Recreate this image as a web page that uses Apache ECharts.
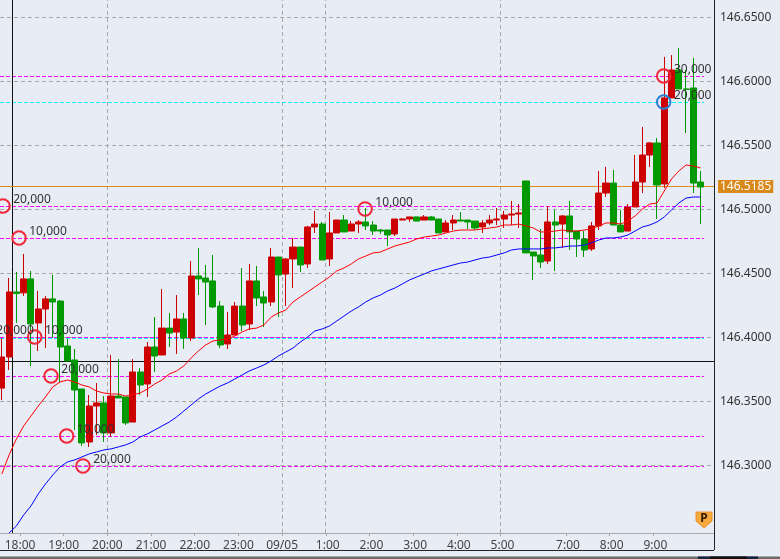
<!DOCTYPE html>
<html>
<head>
<meta charset="utf-8">
<style>
  html, body { margin: 0; padding: 0; background: #e8ecf5; overflow: hidden; }
  #chart { width: 780px; height: 559px; }
</style>
<script src="https://cdn.jsdelivr.net/npm/echarts@6/dist/echarts.min.js"></script>
</head>
<body>
<div id="chart"></div>
<script>
// 10 minute candles, one per slot on the x axis
const opens = [
  146.3603,146.3846,146.4354,146.4347,146.4456,146.4112,146.4221,146.4300,146.4283,146.3932,
  146.3823,146.3596,146.3182,146.3463,146.3487,146.3253,146.3541,146.3534,146.3338,146.3729,
  146.3635,146.3924,146.3862,146.4072,146.4041,146.4143,146.3994,146.4479,146.4463,146.4440,
  146.4244,146.3948,146.4018,146.4244,146.4104,146.4440,146.4315,146.4276,146.4627,146.4494,
  146.4612,146.4705,146.4573,146.4862,146.4885,146.4612,146.4815,146.4916,146.4830,146.4885,
  146.4901,146.4877,146.4838,146.4838,146.4807,146.4916,146.4924,146.4940,146.4916,146.4940,
  146.4924,146.4823,146.4893,146.4916,146.4916,146.4908,146.4862,146.4893,146.4916,146.4924,
  146.4955,146.4963,146.5221,146.4666,146.4643,146.4596,146.4901,146.4885,146.4948,146.4830,
  146.4768,146.4690,146.4870,146.5127,146.5205,146.4877,146.4830,146.5018,146.5213,146.5424,
  146.5518,146.5198,146.5870,146.6088,146.5940,146.5948,146.5213
];
const closes = [
  146.3846,146.4354,146.4342,146.4456,146.4104,146.4221,146.4300,146.4276,146.3924,146.3815,
  146.3588,146.3175,146.3463,146.3487,146.3253,146.3541,146.3526,146.3331,146.3729,146.3627,
  146.3924,146.3854,146.4072,146.4033,146.4143,146.3994,146.4479,146.4456,146.4432,146.4237,
  146.3940,146.4018,146.4244,146.4096,146.4440,146.4307,146.4268,146.4627,146.4487,146.4612,
  146.4705,146.4565,146.4862,146.4885,146.4604,146.4815,146.4916,146.4823,146.4885,146.4901,
  146.4870,146.4830,146.4830,146.4799,146.4924,146.4924,146.4940,146.4908,146.4940,146.4916,
  146.4815,146.4893,146.4916,146.4908,146.4901,146.4854,146.4893,146.4916,146.4924,146.4955,
  146.4963,146.4971,146.4659,146.4635,146.4588,146.4901,146.4877,146.4948,146.4823,146.4768,
  146.4682,146.4870,146.5127,146.5205,146.4877,146.4823,146.5018,146.5213,146.5424,146.5518,
  146.5190,146.5870,146.6088,146.5940,146.5936,146.5205,146.5174
];
const lows = [
  146.3510,146.3745,146.4112,146.4323,146.3776,146.3893,146.3916,146.3994,146.3643,146.3815,
  146.3276,146.3151,146.3143,146.3237,146.3182,146.3221,146.3526,146.3315,146.3338,146.3549,
  146.3534,146.3729,146.3862,146.3924,146.3870,146.3909,146.3971,146.4330,146.4096,146.4229,
  146.3916,146.3909,146.4018,146.4049,146.4057,146.4244,146.4080,146.4244,146.4158,146.4244,
  146.4385,146.4510,146.4541,146.4815,146.4604,146.4557,146.4815,146.4823,146.4830,146.4815,
  146.4838,146.4799,146.4807,146.4713,146.4791,146.4916,146.4901,146.4908,146.4916,146.4916,
  146.4815,146.4823,146.4838,146.4908,146.4846,146.4838,146.4815,146.4877,146.4877,146.4854,
  146.4877,146.4854,146.4659,146.4448,146.4541,146.4573,146.4518,146.4698,146.4682,146.4627,
  146.4627,146.4674,146.4838,146.5096,146.4877,146.4823,146.4830,146.5018,146.5127,146.5331,
  146.4924,146.5166,146.5870,146.5940,146.5596,146.5127,146.4885
];
const highs = [
  146.3994,146.4463,146.4510,146.4651,146.4518,146.4362,146.4323,146.4487,146.4291,146.3986,
  146.3909,146.3596,146.3549,146.3643,146.3541,146.3862,146.3830,146.3534,146.3830,146.3760,
  146.3963,146.4158,146.4377,146.4190,146.4330,146.4190,146.4596,146.4698,146.4565,146.4643,
  146.4283,146.4198,146.4276,146.4541,146.4573,146.4557,146.4362,146.4698,146.4627,146.4619,
  146.4776,146.4705,146.4870,146.4987,146.4901,146.4979,146.4916,146.4955,146.4908,146.4916,
  146.5010,146.4908,146.4846,146.4838,146.4924,146.4932,146.4940,146.4940,146.4955,146.4948,
  146.4924,146.4916,146.4955,146.4979,146.4916,146.4908,146.4916,146.4955,146.5010,146.4987,
  146.5065,146.5041,146.5221,146.4666,146.4846,146.5026,146.4995,146.4955,146.5065,146.4830,
  146.4830,146.4901,146.5299,146.5331,146.5307,146.4995,146.5041,146.5424,146.5643,146.5526,
  146.5557,146.6190,146.6205,146.6260,146.6088,146.6182,146.5299
];
// moving averages, fast (red) and slow (blue, starts one candle later)
const maFast = [
  146.2932,146.3081,146.3206,146.3307,146.3385,146.3463,146.3534,146.3612,146.3651,146.3666,
  146.3651,146.3627,146.3612,146.3580,146.3565,146.3557,146.3557,146.3541,146.3549,146.3565,
  146.3596,146.3635,146.3666,146.3713,146.3737,146.3776,146.3838,146.3893,146.3940,146.3971,
  146.3979,146.3986,146.4010,146.4041,146.4065,146.4072,146.4096,146.4158,146.4190,146.4213,
  146.4276,146.4315,146.4354,146.4393,146.4432,146.4471,146.4518,146.4541,146.4573,146.4612,
  146.4635,146.4659,146.4666,146.4690,146.4713,146.4729,146.4744,146.4768,146.4783,146.4791,
  146.4799,146.4815,146.4830,146.4838,146.4838,146.4838,146.4846,146.4854,146.4862,146.4877,
  146.4877,146.4885,146.4870,146.4854,146.4823,146.4823,146.4830,146.4838,146.4830,146.4830,
  146.4838,146.4846,146.4870,146.4893,146.4893,146.4885,146.4908,146.4948,146.5002,146.5041,
  146.5049,146.5143,146.5237,146.5299,146.5346,146.5338,146.5323
];
const maSlow = [
  146.2472,146.2526,146.2612,146.2682,146.2776,146.2854,146.2924,146.2987,146.3026,
  146.3042,146.3065,146.3089,146.3104,146.3120,146.3128,146.3143,146.3159,146.3182,146.3221,
  146.3245,146.3276,146.3307,146.3338,146.3377,146.3424,146.3471,146.3518,146.3557,146.3588,
  146.3619,146.3643,146.3674,146.3705,146.3737,146.3760,146.3784,146.3815,146.3854,146.3885,
  146.3916,146.3963,146.4002,146.4049,146.4065,146.4088,146.4127,146.4166,146.4205,146.4237,
  146.4276,146.4307,146.4330,146.4362,146.4385,146.4416,146.4448,146.4471,146.4494,146.4518,
  146.4534,146.4549,146.4565,146.4580,146.4588,146.4604,146.4619,146.4627,146.4643,146.4659,
  146.4682,146.4690,146.4690,146.4690,146.4690,146.4698,146.4698,146.4705,146.4713,146.4713,
  146.4721,146.4737,146.4760,146.4776,146.4776,146.4783,146.4799,146.4830,146.4862,146.4877,
  146.4901,146.4940,146.4995,146.5049,146.5088,146.5096,146.5096
];

const priceTicks = [146.30, 146.35, 146.40, 146.45, 146.50, 146.55, 146.60, 146.65];
const timeTicks = [2.5, 8.5, 14.5, 20.5, 26.5, 32.5, 38.5, 44.5, 50.5, 56.5, 62.5, 68.5, 77.5, 83.5, 89.5];
const timeLabels = ["18:00","19:00","20:00","21:00","22:00","23:00","09/05","1:00","2:00","3:00","4:00","5:00","7:00","8:00","9:00"];
const timeGrid = [14.517, 38.557, 44.465, 68.504];

const magentaLevels = [146.6037, 146.5022, 146.4772, 146.3998, 146.3694, 146.3225, 146.2990];
const cyanLevels = [146.5834, 146.3990];
const lastPrice = 146.5178;
const lastPriceText = "146.5185";
const cursorTime = 1.467;
const cursorPrice = 146.3811;

const redMarkTime = [-2.17, 0.16, 2.36, 4.52, 6.76, 8.91, 11.15, 49.9, 90.92];
const redMarkPrice = [146.4002, 146.5026, 146.4776, 146.4002, 146.3698, 146.3229, 146.2995, 146.5003, 146.6041];
const redMarkText = ["20,000","20,000","10,000","10,000","20,000","10,000","20,000","10,000","30,000"];
const blueMarkTime = [90.92];
const blueMarkPrice = [146.5838];
const blueMarkText = ["20,000"];

const FONT = "Noto Sans";
const BG = "#e8ecf5";
const GRID_GRAY = "#a9a9a9";
const LEVELS_END = 96.46; // the level lines stop short of the price axis

function fullLine(field, v, color, type) {
  return { [field]: v, lineStyle: { color: color, type: type, width: 1 }, label: { show: false } };
}

function levelLine(v, color) {
  return [
    { xAxis: -0.25, yAxis: v, lineStyle: { color: color, type: [4, 2], width: 1 }, label: { show: false } },
    { xAxis: LEVELS_END, yAxis: v }
  ];
}

function timeLabel(v) {
  const text = timeLabels[timeTicks.indexOf(v)] || "";
  // the shorter labels sit a little to the right of their tick
  return text.length === 4 ? `{s|${text}}` : text;
}

function markSeries(times, prices, texts, color) {
  return {
    type: "scatter",
    z: 6,
    clip: false,
    symbol: "circle",
    symbolSize: 13.5,
    itemStyle: { color: "rgba(0,0,0,0)", borderColor: color, borderWidth: 2, opacity: 1 },
    label: {
      show: true,
      position: "right",
      distance: 2.5,
      offset: [0, -6],
      color: "#333",
      fontFamily: FONT,
      fontSize: 12,
      formatter: (p) => texts[p.dataIndex]
    },
    data: times.map((t, i) => [t, prices[i]])
  };
}

const chart = echarts.init(document.getElementById("chart"));
chart.setOption({
  animation: false,
  backgroundColor: BG,
  grid: { left: 0, top: 0, width: 714, height: 533 },
  xAxis: {
    type: "value",
    min: -0.25,
    max: 97.83,
    splitLine: { show: false },
    axisLine: { onZero: false, lineStyle: { color: GRID_GRAY, width: 1 } },
    axisTick: { show: true, length: 3, customValues: timeTicks, lineStyle: { color: GRID_GRAY } },
    axisLabel: {
      customValues: timeTicks,
      margin: 7,
      color: "#444",
      fontFamily: FONT,
      fontSize: 12,
      formatter: timeLabel,
      rich: { s: { padding: [0, 0, 0, 4], color: "#444", fontFamily: FONT, fontSize: 12 } }
    }
  },
  yAxis: {
    type: "value",
    position: "right",
    min: 146.2471,
    max: 146.6635,
    axisLine: { show: false },
    axisTick: { show: false, customValues: priceTicks },
    splitLine: { show: true, lineStyle: { color: GRID_GRAY, type: [4, 3], width: 1 } },
    axisLabel: {
      customValues: priceTicks,
      margin: 6,
      color: "#333",
      fontFamily: FONT,
      fontSize: 12,
      formatter: (v) => v.toFixed(4)
    }
  },
  series: [
    {
      type: "candlestick",
      barWidth: 6.6,
      z: 3,
      itemStyle: { color: "#cc0000", color0: "#009900", borderColor: "#cc0000", borderColor0: "#009900", borderWidth: 1 },
      data: opens.map((o, i) => [i, o, closes[i], lows[i], highs[i]]),
      markLine: {
        silent: true,
        z: 1,
        symbol: ["none", "none"],
        precision: 4,
        data: [
          ...timeGrid.map((t) => fullLine("xAxis", t, GRID_GRAY, [4, 3])),
          ...magentaLevels.map((v) => levelLine(v, "#ff00ff")),
          ...cyanLevels.map((v) => levelLine(v, "#00ffff")),
          fullLine("xAxis", cursorTime, "#111", "solid"),
          fullLine("yAxis", cursorPrice, "#111", "solid"),
          {
            yAxis: lastPrice,
            lineStyle: { color: "#e08a1e", type: "solid", width: 1 },
            label: {
              show: true,
              position: "end",
              distance: 4,
              formatter: lastPriceText,
              color: "#fff",
              backgroundColor: "#d9881a",
              padding: [1, 2, 0, 2],
              fontFamily: FONT,
              fontSize: 12
            }
          }
        ]
      }
    },
    {
      type: "line",
      z: 5,
      symbol: "none",
      lineStyle: { color: "#ff0000", width: 1 },
      data: maFast.map((v, i) => [i, v])
    },
    {
      type: "line",
      z: 5,
      symbol: "none",
      lineStyle: { color: "#0000ff", width: 1 },
      data: maSlow.map((v, i) => [i + 1, v])
    },
    markSeries(redMarkTime, redMarkPrice, redMarkText, "#f2283a"),
    markSeries(blueMarkTime, blueMarkPrice, blueMarkText, "#2a7fd0")
  ],
  graphic: [
    // window frame and status strip around the plot
    { type: "line", z: 10, shape: { x1: 714.5, y1: 0, x2: 714.5, y2: 550 }, style: { stroke: "#222", lineWidth: 1 } },
    { type: "line", z: 10, shape: { x1: 0, y1: 550.5, x2: 714, y2: 550.5 }, style: { stroke: "#222", lineWidth: 1 } },
    { type: "rect", z: 10, shape: { x: 0, y: 556.5, width: 780, height: 3 }, style: { fill: "#6b6b6b" } },
    { type: "rect", z: 11, shape: { x: 698, y: 556.5, width: 60, height: 3 }, style: { fill: "#10243c" } },
    { type: "rect", z: 12, shape: { x: 710, y: 556.5, width: 37, height: 3 }, style: { fill: "#111" } },
    // "P" badge
    {
      type: "polygon",
      z: 10,
      shape: { points: [[696, 512], [712, 512], [712, 521], [704, 528], [696, 521]] },
      style: { fill: "#f8a93c", stroke: "#f0902a", lineWidth: 1 }
    },
    {
      type: "text",
      z: 11,
      x: 704,
      y: 519,
      style: { text: "P", fill: "#2e1a00", font: "bold 12px Noto Sans", align: "center", verticalAlign: "middle" }
    }
  ]
});
</script>
</body>
</html>
